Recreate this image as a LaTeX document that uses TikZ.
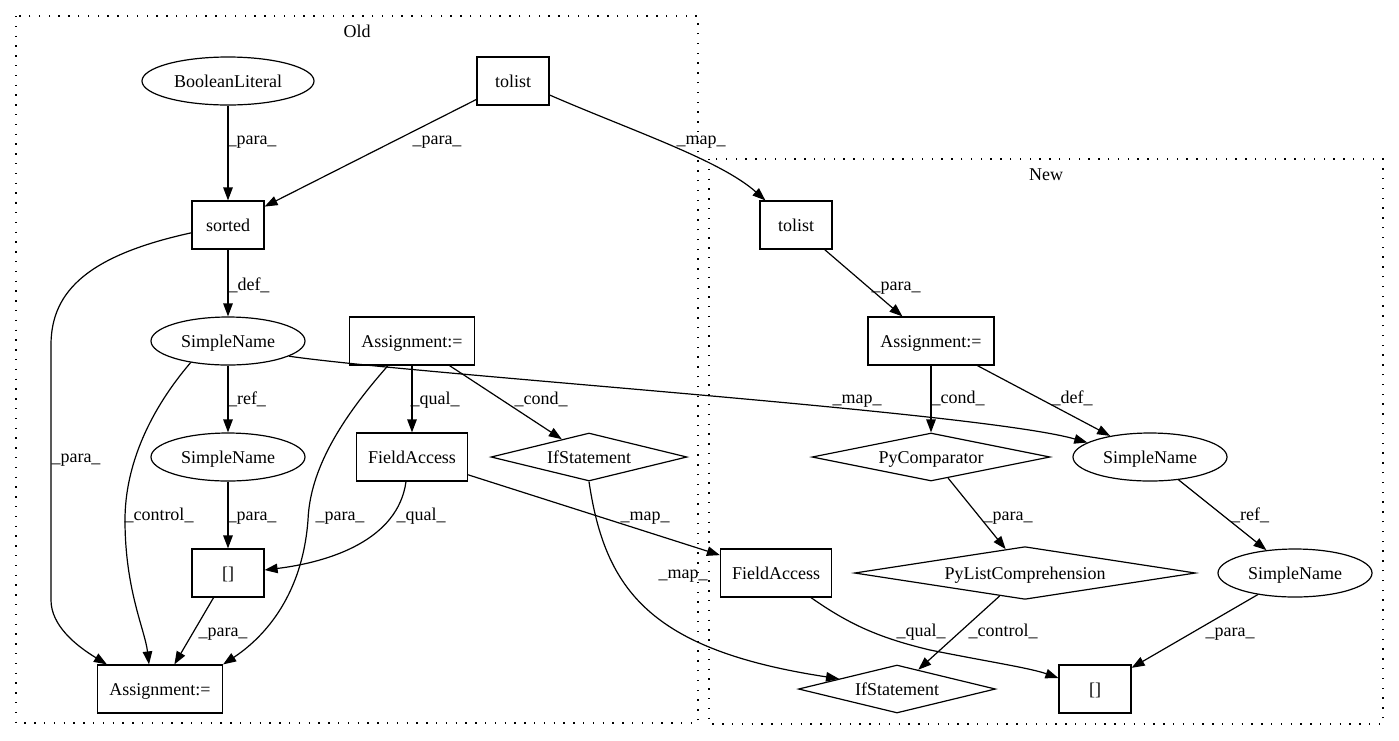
\documentclass[tikz,border=0pt]{standalone}
\usepackage{fontspec}
\setmainfont{Liberation Serif}
\usetikzlibrary{shapes.geometric,arrows.meta,calc}
\begin{document}
\begin{tikzpicture}[x=1pt,y=-1pt,
  every node/.style={font=\fontsize{18}{21}\selectfont, text height=12.5pt, text depth=0pt, inner sep=0pt},
  box/.style={draw, line width=1.2pt, minimum width=72pt, minimum height=48pt},
  ell/.style={draw, ellipse, line width=1.2pt, minimum width=154pt, minimum height=48pt},
  dia/.style={draw, diamond, aspect=4, line width=1.2pt, minimum height=48pt},
  edge/.style={line width=1.2pt, -{Triangle[length=13pt,width=9.5pt]}},
  lab/.style={anchor=base},
  cluster/.style={dash pattern=on 1.4pt off 8.4pt, line width=1.3pt}
]
\useasboundingbox[fill=white] (0,0) rectangle (1399,740);
% clusters
\draw[cluster] (16,16) rectangle (698,723);
\draw[cluster] (709,159) rectangle (1383,724);
\node[lab] (oldlab) at (357,37) {Old};
\node[lab] (newlab) at (1046,180) {New};
% Old nodes
\node[ell, minimum width=172pt] (bool) at (228,81) {BooleanLiteral};
\node[box] (tolA) at (513,81) {tolist};
\node[box] (sorted) at (228,225) {sorted};
\node[ell] (snA) at (228,341) {SimpleName};
\node[box, minimum width=125pt] (asgA) at (412,341) {Assignment:=};
\node[ell] (snB) at (228,457) {SimpleName};
\node[box, minimum width=111pt] (faA) at (412,457) {FieldAccess};
\node[dia, minimum width=196pt] (ifA) at (589,457) {IfStatement};
\node[box] (brA) at (228,573) {[]};
\node[box, minimum width=125pt] (asgB) at (160,689) {Assignment:=};
% New nodes
\node[box] (tolN) at (796,225) {tolist};
\node[box, minimum width=126pt] (asgN) at (931,341) {Assignment:=};
\node[dia, minimum width=238pt] (pyc) at (931,457) {PyComparator};
\node[ell] (snC) at (1150,457) {SimpleName};
\node[dia, minimum width=341pt] (pyl) at (1025,573) {PyListComprehension};
\node[ell] (snD) at (1295,573) {SimpleName};
\node[box, minimum width=111pt] (faN) at (776,573) {FieldAccess};
\node[dia, minimum width=197pt] (ifN) at (897,689) {IfStatement};
\node[box] (brN) at (1095,689) {[]};
% edges Old
\draw[edge] (bool) -- (sorted);
\node[lab] (l1) at (252,144) {\_para\_};
\draw[edge] (tolA) -- (sorted);
\node[lab] (l2) at (437,144) {\_para\_};
\draw[edge] ($(tolA.east)+(0,14)$) .. controls (630,130) and (720,160) .. ($(tolN.north west)+(6,0)$);
\node[lab] (l3) at (701,144) {\_map\_};
\draw[edge] (sorted) -- (snA);
\node[lab] (l4) at (249,290) {\_def\_};
\draw[edge] (sorted.192) .. controls (90,255) and (51,290) .. (51,345) -- (51,600) .. controls (51,625) and (75,645) .. ($(asgB.north west)+(10,0)$);
\node[lab] (l5) at (76,462) {\_para\_};
\draw[edge] (snA) -- (snB);
\node[lab] (l6) at (247,404) {\_ref\_};
\draw[edge] (snA.210) .. controls (150,410) and (125,465) .. (125,520) .. controls (125,590) and (145,630) .. ($(asgB.north)+(-11,0)$);
\node[lab] (l7) at (159,520) {\_control\_};
\draw[edge] (snA.-14) .. controls (420,375) and (980,412) .. (snC.167);
\node[lab] (l16) at (857,403) {\_map\_};
\draw[edge] (asgA) -- (faA);
\node[lab] (l10) at (435,404) {\_qual\_};
\draw[edge] (asgA) -- (ifA);
\node[lab] (l12) at (541,404) {\_cond\_};
\draw[edge] ($(asgA.south)+(-24,0)$) .. controls (340,420) and (310,470) .. (308,520) .. controls (302,600) and (260,640) .. (asgB.north east);
\node[lab] (l9) at (340,520) {\_para\_};
\draw[edge] (snB) -- (brA);
\node[lab] (l8) at (252,520) {\_para\_};
\draw[edge] ($(faA.south)+(-6,0)$) .. controls (398,540) and (330,562) .. ($(brA.east)+(0,-3)$);
\node[lab] (l11) at (421,520) {\_qual\_};
\draw[edge] (faA) -- (faN);
\node[lab] (l13) at (645,520) {\_map\_};
\draw[edge] (ifA.south) .. controls (605,590) and (650,650) .. (ifN.170);
\node[lab] (l14) at (683,578) {\_map\_};
\draw[edge] (brA) -- (asgB);
\node[lab] (l15) at (223,636) {\_para\_};
% edges New
\draw[edge] (tolN) -- (asgN);
\node[lab] (l17) at (896,290) {\_para\_};
\draw[edge] (asgN) -- (pyc);
\node[lab] (l18) at (958,403) {\_cond\_};
\draw[edge] (asgN) -- (snC);
\node[lab] (l19) at (1072,403) {\_def\_};
\draw[edge] (pyc) -- (pyl);
\node[lab] (l20) at (1008,520) {\_para\_};
\draw[edge] (snC) -- (snD);
\node[lab] (l21) at (1250,520) {\_ref\_};
\draw[edge] (pyl) -- (ifN);
\node[lab] (l23) at (1003,636) {\_control\_};
\draw[edge] ($(faN.south)+(35,0)$) .. controls (850,625) and (880,638) .. (930,650) .. controls (990,662) and (1030,668) .. ($(brN.west)+(0,-11)$);
\node[lab] (l22) at (921,636) {\_qual\_};
\draw[edge] (snD) -- (brN);
\node[lab] (l24) at (1230,636) {\_para\_};
\end{tikzpicture}
\end{document}
